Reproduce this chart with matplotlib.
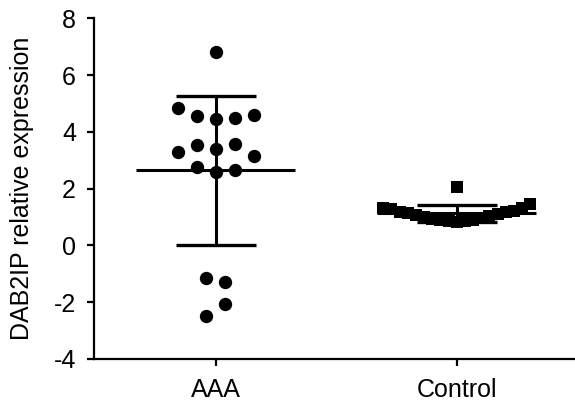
import numpy as np
import matplotlib
matplotlib.use("Agg")
import matplotlib.pyplot as plt

plt.rcParams['font.family'] = ['Liberation Sans', 'DejaVu Sans']
plt.rcParams['axes.unicode_minus'] = False

categories = ["AAA", "Control"]
# values in plotting order (each row is filled centre-out: 0, +1, -1, +2, -2 ...)
aaa_values = [6.83,
              4.44, 4.48, 4.55, 4.59, 4.85,
              3.38, 3.58, 3.52, 3.14, 3.29,
              2.58, 2.66, 2.76,
              -1.29, -1.14,
              -2.05, -2.50]
control_values = [2.05,
                  0.83, 0.86, 0.85, 0.90, 0.88, 0.96, 0.93, 1.03, 0.99,
                  1.10, 1.06, 1.16, 1.13, 1.23, 1.19, 1.31, 1.27, 1.47, 1.32]
yticks = [-4, -2, 0, 2, 4, 6, 8]

groups = [aaa_values, control_values]
markers = ['o', 's']
msizes = [9.6, 9.2]
row_heights = [0.47, 0.70]   # max value span of one row (data units)
gap_break = 0.5
max_spacing = 0.079
max_row_width = 0.61


def layout(values, row_h):
    vals = np.asarray(values, dtype=float)
    order = np.argsort(-vals, kind='stable')
    rows = []
    cur = []
    for i in order:
        if cur and ((vals[cur[0]] - vals[i] > row_h) or (vals[cur[-1]] - vals[i] > gap_break)):
            rows.append(cur)
            cur = []
        cur.append(i)
    if cur:
        rows.append(cur)
    offs = np.zeros(len(vals))
    for r in rows:
        r = sorted(r)  # list order within a row
        n = len(r)
        sp = max_spacing if n < 2 else min(max_spacing, max_row_width / (n - 1))
        for k, idx in enumerate(r):
            if n % 2 == 1:
                level = (k + 1) // 2
                sign = 1 if k % 2 == 1 else -1
                pos = sign * level
            else:
                level = k // 2 + 0.5
                sign = 1 if k % 2 == 0 else -1
                pos = sign * level
            offs[idx] = pos * sp
    return vals, offs


fig = plt.figure(figsize=(5.75, 4.03), dpi=100)
ax = fig.add_axes([94 / 575, 44 / 403, (575 - 94) / 575, (359 - 18.3) / 403])

for gi, (vals_list, mk, ms, rh) in enumerate(zip(groups, markers, msizes, row_heights)):
    vals, offs = layout(vals_list, rh)
    ax.plot(gi + offs, vals, linestyle='none', marker=mk, markersize=ms,
            color='black', markeredgewidth=0, zorder=3)
    m = vals.mean()
    sd = vals.std(ddof=1)
    ax.hlines(m, gi - 0.33, gi + 0.33, color='black', linewidth=2.2, zorder=2)
    ax.hlines([m - sd, m + sd], gi - 0.166, gi + 0.166, color='black', linewidth=2.4, zorder=2)
    ax.vlines(gi, m - sd, m + sd, color='black', linewidth=2.2, zorder=2)

ax.set_xlim(-0.505, 1.491)
ax.set_ylim(-4, 8)
ax.set_yticks(yticks)
ax.set_xticks(range(len(categories)))
ax.set_xticklabels(categories)
ax.spines['top'].set_visible(False)
ax.spines['right'].set_visible(False)
for s in ('left', 'bottom'):
    ax.spines[s].set_linewidth(1.6)
ax.tick_params(axis='both', direction='out', length=5, width=1.6, labelsize=18, color='black')
ax.tick_params(axis='y', pad=8)
ax.tick_params(axis='x', pad=9)
ax.set_ylabel("DAB2IP relative expression", fontsize=18, labelpad=14)

fig.savefig("out.png", dpi=100)
